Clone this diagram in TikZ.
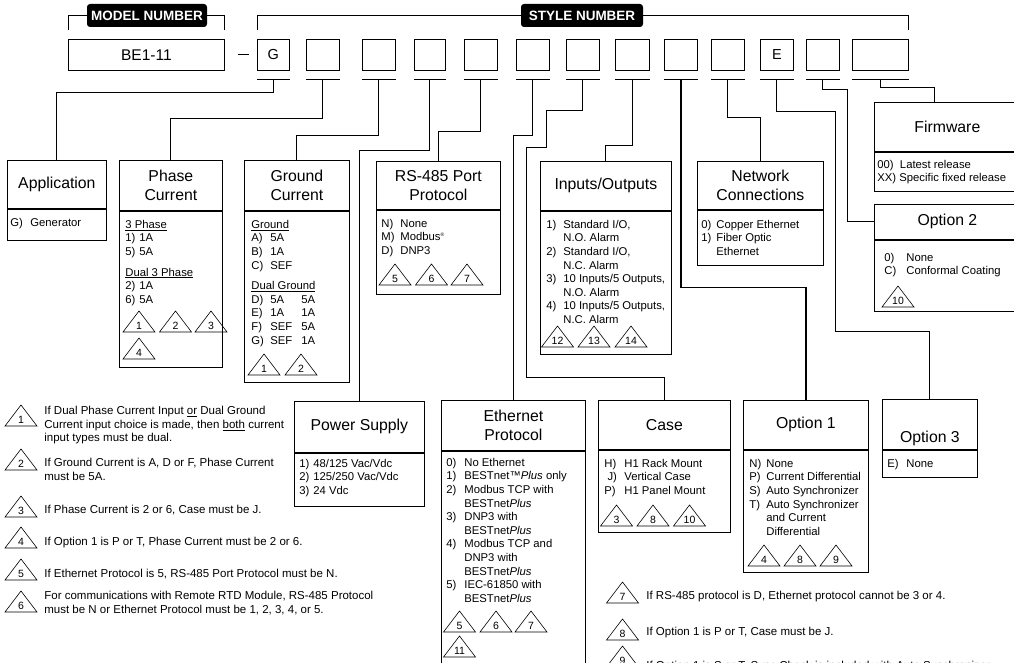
\documentclass[tikz,border=0pt]{standalone}
\usepackage{fontspec}
\setmainfont{Liberation Sans}
\usetikzlibrary{positioning}

\newcommand{\optlbl}[2][15pt]{\makebox[#1][l]{#2}}

\tikzset{
  hd/.style={draw, anchor=north west, align=center, inner sep=1pt,
    font=\fontsize{15.8}{18.5}\selectfont},
  bd/.style={draw, anchor=north west, inner sep=0pt},
  itm/.style={anchor=north west, align=left, inner xsep=6pt, inner ysep=9pt,
    font=\fontsize{11.3}{13.6}\selectfont},
  digit/.style={draw, anchor=north west, minimum height=31, inner sep=0pt,
    font=\fontsize{14.5}{17}\selectfont},
  tag/.style={fill=black, text=white, rounded corners=3pt, minimum height=23,
    inner sep=0pt, font=\bfseries\fontsize{13.5}{16}\selectfont},
  wire/.style={line width=0.8pt},
  note/.style={anchor=north west, align=left, inner sep=0pt,
    font=\fontsize{11.5}{13.6}\selectfont},
  pics/tri/.style={code={
    \draw[line width=0.6pt] (-16,0) -- (0,-21) -- (16,0) -- cycle;
    \node[inner sep=0pt, font=\fontsize{10.5}{12}\selectfont] (-num) at (0,-6.5) {#1};
  }}
}

\begin{document}
\begin{tikzpicture}[x=1pt, y=-1pt, line width=0.75pt]
    \useasboundingbox (0,0) rectangle (1014,663);

    % model and style number
    \node[digit, minimum width=156, font=\fontsize{15.5}{18}\selectfont] (be) at (68,39) {BE1-11};
    \foreach \n/\xx/\w/\t in {1/257/32/G, 2/306/33/{}, 3/362/33/{}, 4/414/31/{}, 5/464/33/{},
        6/516/33/{}, 7/566/33/{}, 8/615/34/{}, 9/664/33/{}, 10/711/33/{}, 11/760/33/E,
        12/806/33/{}, 13/852/56/{}}
        \node[digit, minimum width=\w] (s\n) at (\xx,39) {\t};
    \foreach \n in {1,...,13}
        \draw ([yshift=-9pt]s\n.south west) -- ([yshift=-9pt]s\n.south east);
    \draw ([xshift=13pt]be.east) -- ([xshift=-8pt]s1.west);

    \node[tag, minimum width=120] (mn) at (147,15.5) {MODEL NUMBER};
    \node[tag, minimum width=122] (sn) at (582,15.5) {STYLE NUMBER};
    \draw ([yshift=9pt]be.north west) |- (mn.west);
    \draw (mn.east) -| ([yshift=9pt]be.north east);
    \draw ([yshift=9pt]s1.north west) |- (sn.west);
    \draw (sn.east) -| ([yshift=9pt]s13.north east);

    % option boxes
    \node[hd, minimum width=99, minimum height=48] (app) at (7,160) {Application};
    \node[bd, minimum width=99, minimum height=31] (app-b) at (app.south west) {};
    \node[itm, inner xsep=3pt] (app-i) at (app-b.north west) {\optlbl[20pt]{G)}Generator};

    \node[hd, minimum width=103, minimum height=50] (ph) at (119,160) {Phase\\Current};
    \node[bd, minimum width=103, minimum height=156] (ph-b) at (ph.south west) {};
    \node[itm] (ph-i) at (ph-b.north west) {\underline{3 Phase}\\
        \optlbl[14pt]{1)}1A\\ \optlbl[14pt]{5)}5A\\[7pt]
        \underline{Dual 3 Phase}\\
        \optlbl[14pt]{2)}1A\\ \optlbl[14pt]{6)}5A};

    \node[hd, minimum width=105, minimum height=50] (gr) at (244,160) {Ground\\Current};
    \node[bd, minimum width=105, minimum height=171] (gr-b) at (gr.south west) {};
    \node[itm, inner xsep=7pt] (gr-i) at (gr-b.north west) {\underline{Ground}\\
        \optlbl[19pt]{A)}5A\\ \optlbl[19pt]{B)}1A\\ \optlbl[19pt]{C)}SEF\\[7pt]
        \underline{Dual Ground}\\
        \optlbl[19pt]{D)}\optlbl[31pt]{5A}5A\\ \optlbl[19pt]{E)}\optlbl[31pt]{1A}1A\\
        \optlbl[19pt]{F)}\optlbl[31pt]{SEF}5A\\ \optlbl[19pt]{G)}\optlbl[31pt]{SEF}1A};

    \node[hd, minimum width=124, minimum height=48] (rs) at (376,161) {RS-485 Port\\Protocol};
    \node[bd, minimum width=124, minimum height=84] (rs-b) at (rs.south west) {};
    \node[itm, inner xsep=5pt] (rs-i) at (rs-b.north west) {\optlbl[19pt]{N)}None\\
        \optlbl[19pt]{M)}Modbus\textsuperscript{\fontsize{5}{5}\selectfont ®}\\ \optlbl[19pt]{D)}DNP3};

    \node[hd, minimum width=131, minimum height=49] (io) at (540,161) {Inputs/Outputs};
    \node[bd, minimum width=131, minimum height=143] (io-b) at (io.south west) {};
    \node[itm] (io-i) at (io-b.north west) {\optlbl[17pt]{1)}Standard I/O,\\ \hspace*{17pt}N.O. Alarm\\
        \optlbl[17pt]{2)}Standard I/O,\\ \hspace*{17pt}N.C. Alarm\\
        \optlbl[17pt]{3)}10 Inputs/5 Outputs,\\ \hspace*{17pt}N.O. Alarm\\
        \optlbl[17pt]{4)}10 Inputs/5 Outputs,\\ \hspace*{17pt}N.C. Alarm};

    \node[hd, minimum width=126, minimum height=48] (net) at (697,161) {Network\\Connections};
    \node[bd, minimum width=126, minimum height=55] (net-b) at (net.south west) {};
    \node[itm, inner xsep=4pt, inner ysep=10pt] (net-i) at (net-b.north west) {\optlbl[15pt]{0)}Copper Ethernet\\
        \optlbl[15pt]{1)}Fiber Optic\\ \hspace*{15pt}Ethernet};

    \node[hd, minimum width=146, minimum height=49] (fw) at (874,102) {Firmware};
    \node[bd, minimum width=146, minimum height=39] (fw-b) at (fw.south west) {};
    \node[itm, inner xsep=3pt, inner ysep=8pt] (fw-i) at (fw-b.north west) {00)\ \ Latest release\\
        XX) Specific fixed release};

    \node[hd, minimum width=146, minimum height=35] (op2) at (874,204) {Option 2};
    \node[bd, minimum width=146, minimum height=71] (op2-b) at (op2.south west) {};
    \node[itm, inner xsep=10pt, inner ysep=13pt] (op2-i) at (op2-b.north west) {\optlbl[22pt]{0)}None\\
        \optlbl[22pt]{C)}Conformal Coating};

    \node[hd, minimum width=130, minimum height=51] (pw) at (294,401) {Power Supply};
    \node[bd, minimum width=130, minimum height=53] (pw-b) at (pw.south west) {};
    \node[itm, inner xsep=5pt, inner ysep=6pt] (pw-i) at (pw-b.north west) {\optlbl[14pt]{1)}48/125 Vac/Vdc\\
        \optlbl[14pt]{2)}125/250 Vac/Vdc\\ \optlbl[14pt]{3)}24 Vdc};

    \node[hd, minimum width=144, minimum height=50] (eth) at (441,400) {Ethernet\\Protocol};
    \node[bd, minimum width=144, minimum height=300] (eth-b) at (eth.south west) {};
    \node[itm, inner xsep=5pt, inner ysep=7pt] (eth-i) at (eth-b.north west) {\optlbl[18pt]{0)}No Ethernet\\
        \optlbl[18pt]{1)}BESTnet™\textit{Plus} only\\
        \optlbl[18pt]{2)}Modbus TCP with\\ \hspace*{18pt}BESTnet\textit{Plus}\\
        \optlbl[18pt]{3)}DNP3 with\\ \hspace*{18pt}BESTnet\textit{Plus}\\
        \optlbl[18pt]{4)}Modbus TCP and\\ \hspace*{18pt}DNP3 with\\ \hspace*{18pt}BESTnet\textit{Plus}\\
        \optlbl[18pt]{5)}IEC-61850 with\\ \hspace*{18pt}BESTnet\textit{Plus}};

    \node[hd, minimum width=132, minimum height=49] (cs) at (598,400) {Case};
    \node[bd, minimum width=132, minimum height=82] (cs-b) at (cs.south west) {};
    \node[itm] (cs-i) at (cs-b.north west) {\optlbl[20pt]{H)}H1 Rack Mount\\
        \optlbl[20pt]{\ J)}Vertical Case\\ \optlbl[20pt]{P)}H1 Panel Mount};

    \node[hd, minimum width=125, minimum height=49] (op1) at (743,400) {Option 1};
    \node[bd, minimum width=125, minimum height=122] (op1-b) at (op1.south west) {};
    \node[itm] (op1-i) at (op1-b.north west) {\optlbl[17pt]{N)}None\\
        \optlbl[17pt]{P)}Current Differential\\ \optlbl[17pt]{S)}Auto Synchronizer\\
        \optlbl[17pt]{T)}Auto Synchronizer\\ \hspace*{17pt}and Current\\ \hspace*{17pt}Differential};

    \node[hd, minimum width=95, minimum height=50, inner ysep=0pt, text height=40pt] (op3) at (882,399) {Option 3};
    \node[bd, minimum width=95, minimum height=27] (op3-b) at (op3.south west) {};
    \node[itm, inner xsep=5pt] (op3-i) at (op3-b.north west) {\optlbl[19pt]{E)}None};

    % connectors
    \draw[wire] (s1.south) ++(0,9) -- ++(0,13) -| (app.north);
    \draw[wire] (s2.south) ++(0,9) -- ++(0,39) -| (ph.north);
    \draw[wire] (s3.south) ++(0,9) -- ++(0,56) -| (gr.north);
    \draw[wire] (s4.south) ++(0,9) -- ++(0,71) -| (pw.north);
    \draw[wire] (s5.south) ++(0,9) -- ++(0,52) -| (rs.north);
    \draw[wire] (s6.south) ++(0,9) -- ++(0,56) -| (eth.north);
    \draw[wire] (s7.south) ++(0,9) -- ++(0,31) -- ++(-36,0) -- ++(0,37) -- ++(-20,0)
        -- ++(0,230) -| (cs.north);
    \draw[wire] (s8.south) ++(0,9) -- ++(0,66) -| (io.north);
    \draw[wire, line width=1.4pt] (s9.south) ++(0,9) -- ++(0,208) -| (op1.north);
    \draw[wire] (s10.south) ++(0,9) -- ++(0,38) -| (net.north);
    \draw[wire] (s11.south) ++(0,9) -- ++(0,32) -- ++(59,0) -- ++(0,220) -| (op3.north);
    \draw[wire] (s12.south) ++(0,9) -- ++(0,10) -- ++(25,0) |- (op2.west);
    \draw[wire] (s13.south) ++(0,9) -- ++(0,8) -| ([xshift=-13pt]fw.north);

    % note marks in the boxes
    \foreach \n/\xx/\yy in {1/139/332, 2/175.5/332, 3/211/332, 4/139/359}
        \pic (ph-t\n) at (\xx,\yy) {tri=\n};
    \foreach \n/\xx in {1/264, 2/301}
        \pic (gr-t\n) at (\xx,375) {tri=\n};
    \foreach \n/\xx in {5/395, 6/431.5, 7/467}
        \pic (rs-t\n) at (\xx,285) {tri=\n};
    \foreach \n/\xx in {12/557.5, 13/594, 14/631}
        \pic (io-t\n) at (\xx,347) {tri=\n};
    \pic (op2-t10) at (898,307) {tri=10};
    \foreach \n/\xx/\yy in {5/459.5/632, 6/496/632, 7/531/632, 11/459.5/657}
        \pic (eth-t\n) at (\xx,\yy) {tri=\n};
    \foreach \n/\xx in {3/616.5, 8/653, 10/689.5}
        \pic (cs-t\n) at (\xx,526) {tri=\n};
    \foreach \n/\xx in {4/764, 8/800, 9/836}
        \pic (op1-t\n) at (\xx,566) {tri=\n};

    % notes
    \foreach \n/\yy in {1/426, 2/470, 3/517, 4/548, 5/580, 6/612}
        \pic (n\n) at (21,\yy) {tri=\n};
    \foreach \n/\yy in {7/603, 8/640, 9/667}
        \pic (n\n) at (622.5,\yy) {tri=\n};
    \node[note] (n1-txt) at (44,406) {If Dual Phase Current Input \underline{or} Dual Ground\\
        Current input choice is made, then \underline{both} current\\ input types must be dual.};
    \node[note] (n2-txt) at (44,458) {If Ground Current is A, D or F, Phase Current\\ must be 5A.};
    \node[note] (n3-txt) at (44,505) {If Phase Current is 2 or 6, Case must be J.};
    \node[note] (n4-txt) at (44,537) {If Option 1 is P or T, Phase Current must be 2 or 6.};
    \node[note] (n5-txt) at (44,569) {If Ethernet Protocol is 5, RS-485 Port Protocol must be N.};
    \node[note] (n6-txt) at (44,591) {For communications with Remote RTD Module, RS-485 Protocol\\
        must be N or Ethernet Protocol must be 1, 2, 3, 4, or 5.};
    \node[note] (n7-txt) at (646,591) {If RS-485 protocol is D, Ethernet protocol cannot be 3 or 4.};
    \node[note] (n8-txt) at (646,627) {If Option 1 is P or T, Case must be J.};
    \node[note] (n9-txt) at (646,661) {If Option 1 is S or T, Sync Check is included with Auto Synchronizer};
\end{tikzpicture}
\end{document}
